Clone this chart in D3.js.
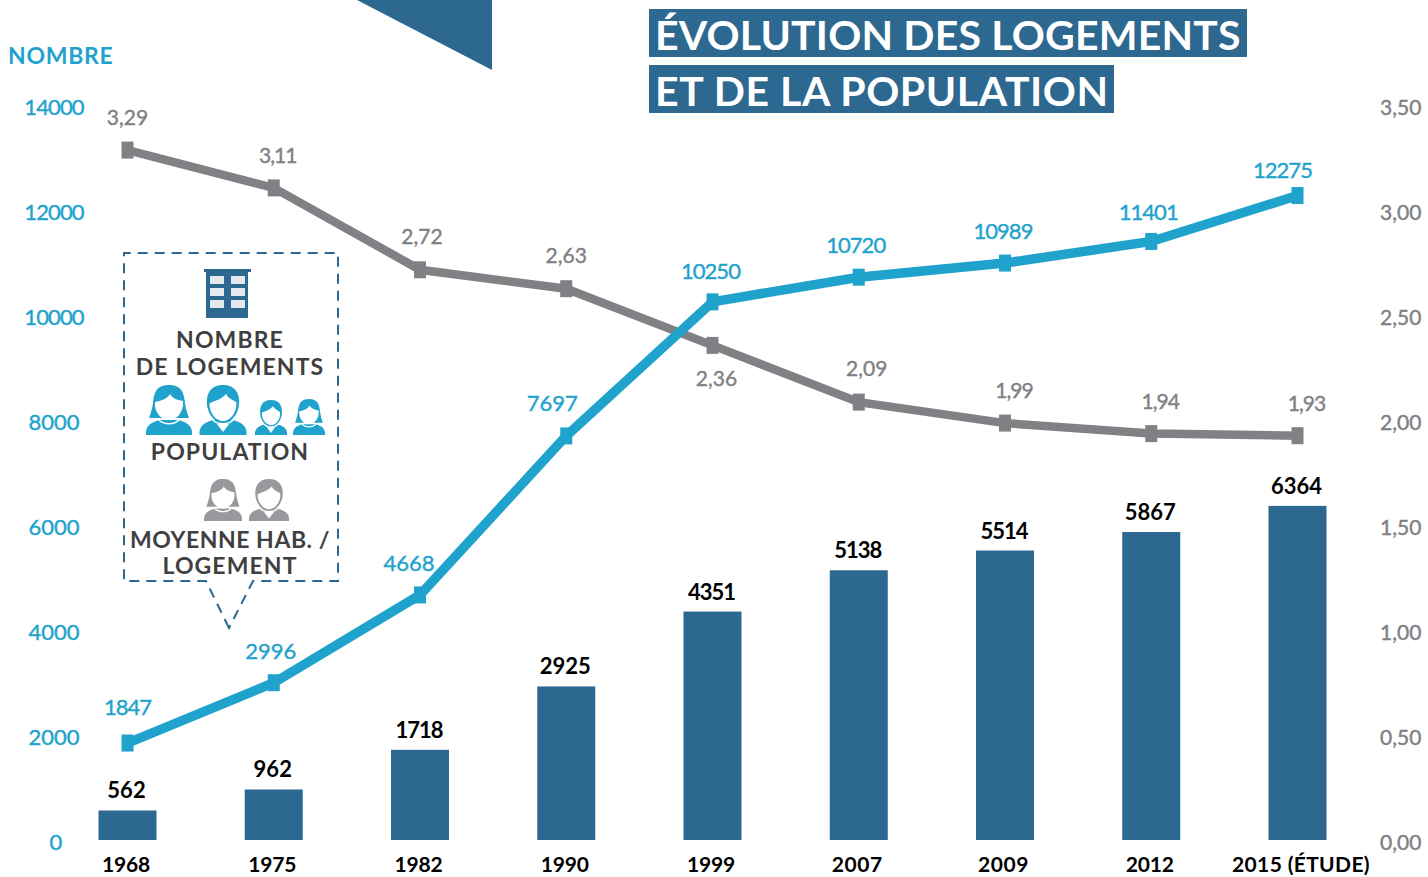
<!DOCTYPE html>
<html><head><meta charset="utf-8"><script src="https://cdn.jsdelivr.net/npm/d3@7"></script>
<style>html,body{margin:0;background:#fff}svg{display:block}text{font-family:Lato,Inter,sans-serif}</style></head>
<body><svg id="c" width="1428" height="877"></svg>
<script>
const years=["1968","1975","1982","1990","1999","2007","2009","2012","2015 (ÉTUDE)"];
const logements=[562,962,1718,2925,4351,5138,5514,5867,6364];
const population=[1847,2996,4668,7697,10250,10720,10989,11401,12275];
const moyenne=[3.29,3.11,2.72,2.63,2.36,2.09,1.99,1.94,1.93];
const leftTicks=[0,2000,4000,6000,8000,10000,12000,14000];
const rightTicks=[0,0.5,1,1.5,2,2.5,3,3.5];
const popLabelOffset=[[0,-28],[-3,-24],[-11,-24],[-14,-25],[-2,-23],[-3,-24],[-2,-24],[-3,-21],[-15,-18]];
const moyLabelOffset=[[0,-25],[4,-25],[2,-26],[0,-26],[4,41],[8,-26],[9,-25],[9,-25],[9,-25]];
const BLUE="#1fa3cd",NAVY="#2c688f",GREY="#818084",DARK="#3f3f41";
const svg=d3.select("#c");
const x=d3.scalePoint().domain(years).range([127.5,1297.5]);
const yL=d3.scaleLinear().domain([0,14000]).range([840,105]);
const yR=d3.scaleLinear().domain([0,3.5]).range([841,106]);
const fr=d3.format(".2f");
const comma=v=>fr(v).replace(".",",");
// the reference face has a slim numeral one: tighten strings by how many ones they hold, within a legible limit
function fill(sel,s,q,base=0){
  const str=String(s),n=(str.match(/1/g)||[]).length;
  sel.text(str).attr("letter-spacing",base+Math.max(-2*q*n/str.length,-1));
}
const T=(s,px,py,o={})=>{
  const t=svg.append("text").attr("x",px).attr("y",py).attr("text-anchor",o.a||"middle")
  .attr("font-size",o.s||21).attr("font-weight",o.w||400).attr("fill",o.c||"#000")
  .attr("stroke",o.k?(o.c||"#000"):"none").attr("stroke-width",o.k||0)
  .attr("letter-spacing",o.l||0);
  if(o.q) fill(t,s,o.q); else t.text(s);
  return t;
};
svg.append("path").attr("d",d3.line()([[357,0],[492,0],[492,70]])+"Z").attr("fill",NAVY);
svg.append("rect").attr("x",649).attr("y",9).attr("width",598).attr("height",48).attr("fill",NAVY);
svg.append("rect").attr("x",649).attr("y",65).attr("width",465).attr("height",48).attr("fill",NAVY);
T("ÉVOLUTION DES LOGEMENTS",655,50,{a:"start",s:41,w:700,c:"#fff",l:.18});
T("ET DE LA POPULATION",655,106,{a:"start",s:41,w:700,c:"#fff",l:.58});
T("NOMBRE",8,64,{a:"start",s:23,w:700,c:BLUE,l:.7});
// axes
const axL=d3.axisLeft(yL).tickValues(leftTicks).tickFormat(d3.format("d")).tickSize(0).tickPadding(0);
const gL=svg.append("g").call(axL);
gL.select(".domain").remove();
gL.selectAll("text").attr("x",d=>d===0?56:54).attr("dy",null).attr("y",9).attr("text-anchor","middle")
  .attr("fill",BLUE).attr("stroke",BLUE).attr("stroke-width",.4).attr("font-size",22).attr("font-family","Lato")
  .each(function(d){fill(d3.select(this),d,2.2);});
const axR=d3.axisRight(yR).tickValues(rightTicks).tickFormat(comma).tickSize(0).tickPadding(0);
const gR=svg.append("g").call(axR);
gR.select(".domain").remove();
gR.selectAll("text").attr("x",1380).attr("dy",null).attr("y",8).attr("text-anchor","start")
  .attr("fill",GREY).attr("stroke",GREY).attr("stroke-width",.4).attr("font-size",21).attr("font-family","Lato");
const axB=d3.axisBottom(x).tickSize(0).tickPadding(0);
const gB=svg.append("g").attr("transform","translate(0,872)").call(axB);
gB.select(".domain").remove();
gB.selectAll("text").attr("dy",null).attr("y",0).attr("fill","#000").attr("font-size",21)
  .attr("font-weight",700).attr("font-family","Lato")
  .attr("dx",(d,i)=>i===8?3:-2)
  .each(function(d){fill(d3.select(this),d,1.5,.6);});
// bars
svg.selectAll(".bar").data(logements).join("rect").attr("class","bar")
  .attr("x",(d,i)=>x(years[i])-29).attr("width",58).attr("y",d=>yL(d)).attr("height",d=>yL(0)-yL(d)).attr("fill",NAVY);
svg.selectAll(".bl").data(logements).join("text").attr("class","bl").attr("text-anchor","middle")
  .attr("x",(d,i)=>x(years[i])-1).attr("y",d=>yL(d)-12).attr("font-size",22).attr("font-weight",700).attr("fill","#000")
  .each(function(d){fill(d3.select(this),d,3);});
// lines
function series(vals,y,color,w){
  const pts=vals.map((v,i)=>[x(years[i]),y(v)]);
  svg.append("path").attr("d",d3.line()(pts)).attr("fill","none").attr("stroke",color).attr("stroke-width",w);
  svg.append("g").selectAll("rect").data(pts).join("rect").attr("x",p=>p[0]-6).attr("y",p=>p[1]-8.5).attr("width",12).attr("height",17).attr("fill",color);
}
series(moyenne,yR,GREY,8.5);
series(population,yL,BLUE,9.5);
population.forEach((v,i)=>T(v,x(years[i])+popLabelOffset[i][0],yL(v)+popLabelOffset[i][1],{c:BLUE,s:22,k:.4,q:3.5}));
moyenne.forEach((v,i)=>T(comma(v),x(years[i])+moyLabelOffset[i][0],yR(v)+moyLabelOffset[i][1],{c:GREY,s:21,k:.4,q:2.5}));
// legend box
svg.append("path").attr("d","M229 628 L206 581 L124 581 L124 253 L338 253 L338 581 L253 581 Z")
  .attr("fill","none").attr("stroke",NAVY).attr("stroke-width",2).attr("stroke-dasharray","10 7");
const g=svg.append("g");
g.append("rect").attr("x",204).attr("y",269).attr("width",47).attr("height",3).attr("fill",NAVY);
g.append("rect").attr("x",206).attr("y",270).attr("width",42).attr("height",48).attr("fill",NAVY);
[276,288,300].forEach(wy=>[210,231].forEach(wx=>g.append("rect").attr("x",wx).attr("y",wy).attr("width",14).attr("height",8).attr("fill","#e3e9ee")));
function person(cx,base,w,h,color,longHair){
  const P=g.append("g").attr("transform",`translate(${cx},${base}) scale(${w/46},${h/50})`);
  P.append("path").attr("fill",color).attr("d","M-23 0 C-24 -9 -18 -13 -9 -15 L9 -15 C18 -13 24 -9 23 0 Z");
  if(longHair){
    P.append("path").attr("fill",color).attr("d","M0 -50 C-14 -50 -15 -40 -16 -32 C-17 -25 -19 -20 -20 -17 L20 -17 C19 -20 17 -25 16 -32 C15 -40 14 -50 0 -50 Z");
    P.append("path").attr("fill","#fff").attr("d","M-14 -33 C-8 -34 -2 -36 1 -41 C4 -36 9 -35 14 -34 C15 -23 8 -15 0 -15 C-8 -15 -15 -23 -14 -33 Z");
  } else {
    P.append("path").attr("fill",color).attr("d","M0 -50 C-13 -50 -17 -40 -15.5 -29 C-14 -19 -7 -12 0 -12 C7 -12 14 -19 15.5 -29 C17 -40 13 -50 0 -50 Z");
    P.append("path").attr("fill","#fff").attr("d","M-13 -32 C-8 -34 -1 -36 3 -41 C5 -37 9 -35 13 -33 C14 -24 8 -14 0 -14 C-8 -14 -14 -24 -13 -32 Z");
    P.append("path").attr("fill","#fff").attr("d","M-6 -11 L6 -11 L0 -3 Z");
  }
  P.append("path").attr("fill","none").attr("stroke","#fff").attr("stroke-width",1.6).attr("d","M-10 -15 C-5 -10 5 -10 10 -15");
}
person(169,435,46,50,BLUE,true);person(223,435,47,50,BLUE,false);person(271,435,32,35,BLUE,false);person(309,435,32,36,BLUE,true);
person(223,521,38,42,"#98999c",true);person(269,521,40,42,"#98999c",false);
[["NOMBRE",230,348,1.1],["DE LOGEMENTS",230,375,1.1],["POPULATION",230,460,1.1],["MOYENNE HAB. /",230,548,.55],["LOGEMENT",230,574,1.1]]
 .forEach(d=>T(d[0],d[1],d[2],{s:23,w:700,c:DARK,l:d[3]}));
</script></body></html>
